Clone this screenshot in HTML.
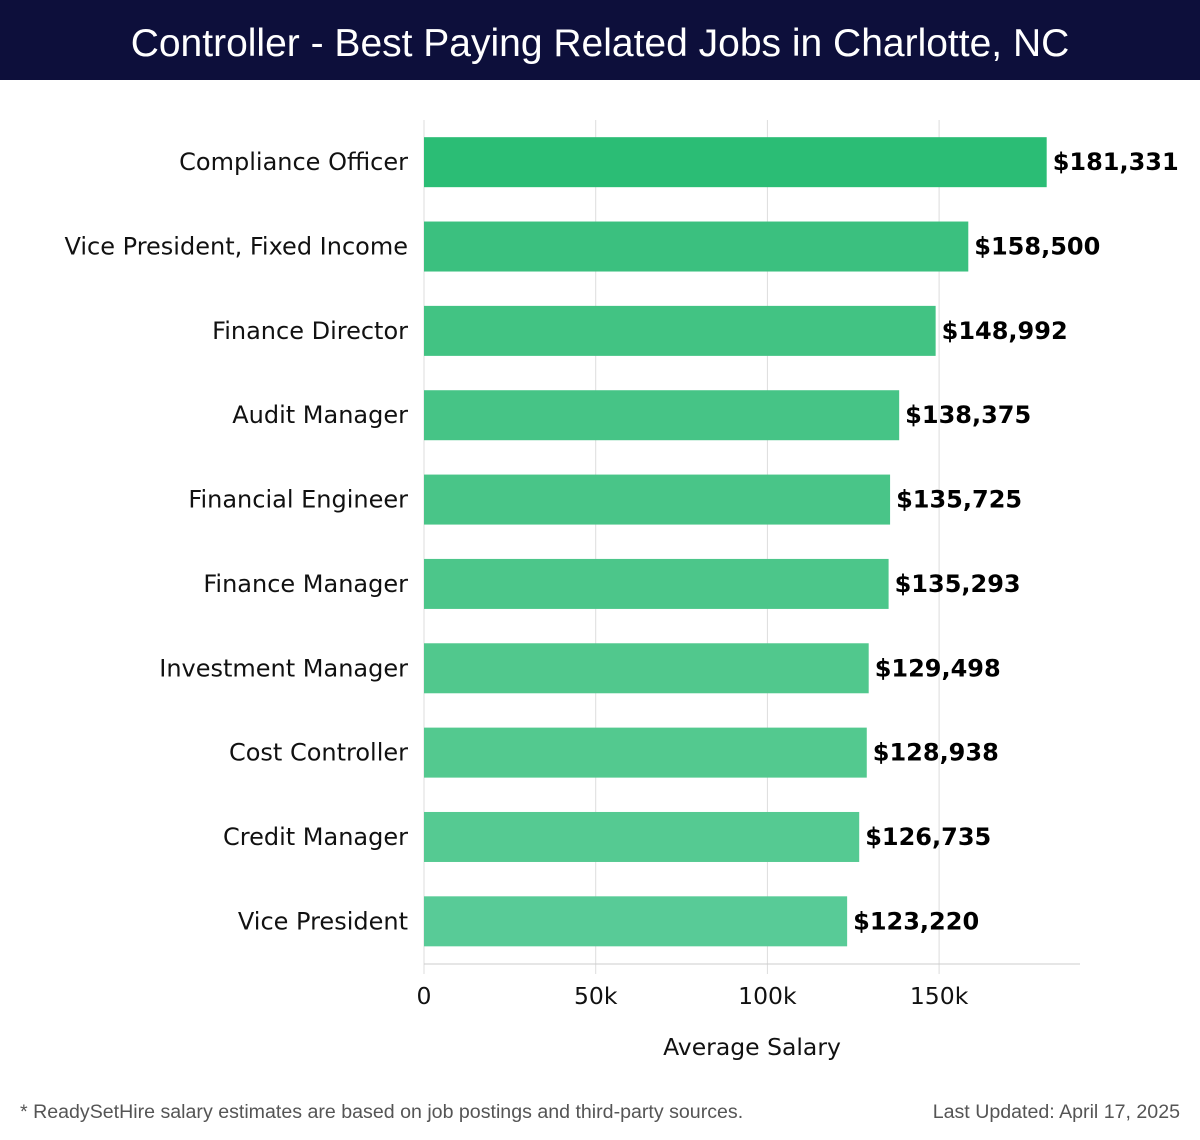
<!DOCTYPE html>
<html><head><meta charset="utf-8"><style>
body{margin:0;width:1200px;height:1140px;background:#fff;overflow:hidden;font-family:"DejaVu Sans","Liberation Sans",sans-serif}
#title{position:absolute;left:0;top:0;width:1200px;height:80px;background:#0d0f3b;color:#fff;font:39px "Liberation Sans",sans-serif;text-align:center;line-height:88px}
.foot{position:absolute;top:1101px;font:19.6px "Liberation Sans",sans-serif;color:#555}
</style></head><body>
<div id="title">Controller - Best Paying Related Jobs in Charlotte, NC</div>
<svg id="chart" width="1200" height="1140" style="position:absolute;left:0;top:0"></svg>
<div class="foot" style="left:20px">* ReadySetHire salary estimates are based on job postings and third-party sources.</div>
<div class="foot" style="right:20px">Last Updated: April 17, 2025</div>
<script>
const categories=["Compliance Officer","Vice President, Fixed Income","Finance Director","Audit Manager","Financial Engineer","Finance Manager","Investment Manager","Cost Controller","Credit Manager","Vice President"];
const salaries=[181331,158500,148992,138375,135725,135293,129498,128938,126735,123220];
const colors=["#2bbd75","#3bc07f","#42c383","#46c486","#49c588","#4cc68a","#51c88d","#53c98f","#55ca92","#58cb97"];
const ticks=[0,50000,100000,150000];
const tickLabels=["0","50k","100k","150k"];
const svg=document.getElementById('chart');const NS="http://www.w3.org/2000/svg";
const x0=424,pxPer=171.7/50000,plotTop=120,step=84.35,barH=50;
const X=v=>x0+v*pxPer;
const Y=i=>plotTop+step*i+step/2;
function mk(t,a){const e=document.createElementNS(NS,t);for(const k in a)e.setAttribute(k,a[k]);svg.appendChild(e);return e;}
ticks.forEach((t,i)=>{
 const g=mk('line',{x1:X(t),x2:X(t),y1:plotTop,y2:974,stroke:'#ddd','stroke-width':1});
 
 
 const l=mk('text',{x:X(t),y:1004,'text-anchor':'middle','font-size':23.5,fill:'#111'});l.textContent=tickLabels[i];
 
 
});
const ax=mk('line',{x1:x0,x2:1080,y1:964,y2:964,stroke:'#ccc','stroke-width':1});


categories.forEach((c,i)=>{
 const y=Y(i);
 const r=mk('rect',{x:x0,y:y-barH/2,width:X(salaries[i])-x0,height:barH,fill:colors[i]});
 
 
 const l=mk('text',{x:408,y:y+8,'text-anchor':'end','font-size':24,fill:'#111'});l.textContent=c;
 
 
 const v=mk('text',{x:X(salaries[i])+6,y:y+8,'font-size':24,'font-weight':'bold',fill:'#000'});v.textContent='$'+salaries[i].toLocaleString('en-US');
 
 
});
const t=mk('text',{x:752,y:1055,'text-anchor':'middle','font-size':23.5,fill:'#111'});t.textContent='Average Salary';


</script>
</body></html>
